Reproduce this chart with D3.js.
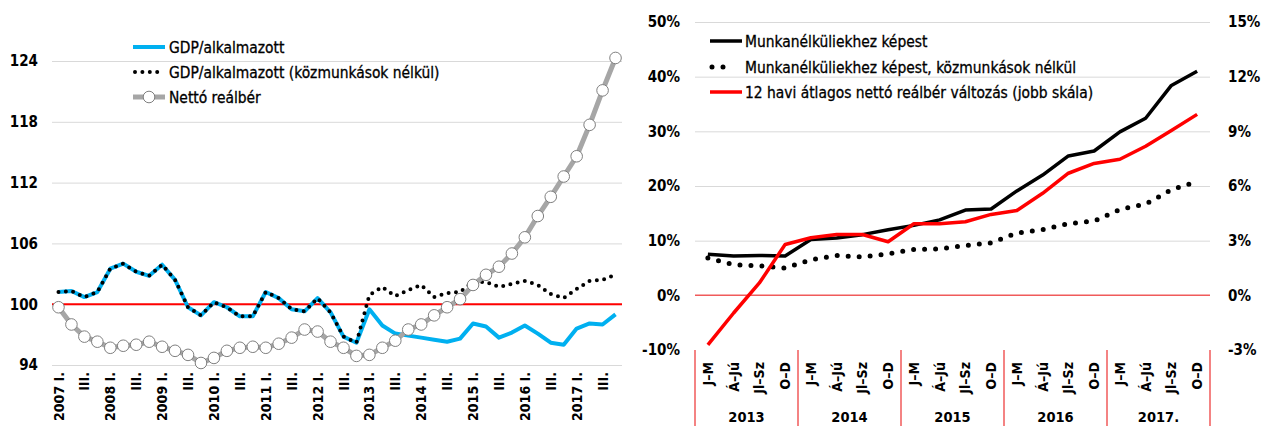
<!DOCTYPE html>
<html><head><meta charset="utf-8">
<script src="https://cdn.jsdelivr.net/npm/d3@7"></script>
<style>
body{margin:0;background:#fff}
svg{display:block}
text{font-family:"DejaVu Sans Condensed","DejaVu Sans",sans-serif;fill:#000}
.lg{stroke:#000;stroke-width:0.3px}
</style>
</head><body>
<svg id="c" width="1261" height="426"></svg>
<script>
// ---------- DATA: left chart ----------
const leftYears = [2007,2008,2009,2010,2011,2012,2013,2014,2015,2016,2017];
const leftQuarters = ["I.","II.","III.","IV."];
const leftYTicks = [94,100,106,112,118,124];
const gdpPerEmployee = [101.2,101.3,100.7,101.2,103.5,104.0,103.2,102.8,103.9,102.4,
  99.7,98.9,100.2,99.7,98.8,98.8,101.2,100.6,99.5,99.3,
  100.6,99.2,96.8,96.2,99.5,97.9,97.1,96.9,96.7,96.5,
  96.3,96.6,98.1,97.8,96.7,97.2,97.9,97.1,96.2,96.0,
  97.6,98.1,98.0,99.0];
const gdpPerEmployeeExPW = [101.2,101.3,100.7,101.2,103.5,104.0,103.2,102.8,103.9,102.4,
  99.7,98.9,100.2,99.7,98.8,98.8,101.2,100.6,99.5,99.3,
  100.6,99.2,96.8,96.2,100.9,101.7,100.8,101.4,101.9,100.7,
  101.1,101.2,102.2,102.2,101.7,102.0,102.3,101.9,101.0,100.6,
  101.5,102.3,102.4,102.9];
const netRealWage = [99.7,98.0,96.8,96.3,95.7,95.9,96.0,96.3,95.8,95.4,
  95.0,94.2,94.7,95.4,95.7,95.8,95.7,96.1,96.7,97.5,
  97.3,96.3,95.7,94.9,95.0,95.7,96.4,97.5,98.0,98.9,
  99.7,100.5,101.9,102.9,103.7,105.0,106.6,108.7,110.6,112.6,
  114.6,117.7,121.1,124.3];
const leftLegend = ["GDP/alkalmazott","GDP/alkalmazott (közmunkások nélkül)","Nettó reálbér"];

// ---------- DATA: right chart ----------
const rightYears = ["2013","2014","2015","2016","2017."];
const rightQuarters = ["J–M","Á–Jú","Jl–Sz","O–D"];
const rightYTicks = [-10,0,10,20,30,40,50];
const rightY2Ticks = [-3,0,3,6,9,12,15];
const vsUnemployed = [7.5,7.2,7.3,7.2,10.2,10.5,11.1,12.0,12.8,13.8,15.6,15.8,19.1,22.0,25.5,26.4,29.9,32.4,38.4,41.0];
const vsUnemployedExPW = [6.85,5.6,5.4,5.0,6.5,7.3,7.0,7.6,8.4,8.5,9.1,9.6,11.4,12.0,13.1,13.6,15.7,16.7,19.3,20.8];
const wageChange12m = [-2.72,-0.97,0.68,2.79,3.16,3.34,3.34,2.94,3.93,3.93,4.04,4.44,4.66,5.6,6.7,7.24,7.47,8.18,9.05,9.93];
const rightLegend = ["Munkanélküliekhez képest","Munkanélküliekhez képest, közmunkások nélkül","12 havi átlagos nettó reálbér változás (jobb skála)"];

// ---------- helpers ----------
const svg = d3.select("#c");
const GRID = "#d9d9d9";

// ================= LEFT CHART =================
const leftCats = leftYears.flatMap(y => leftQuarters.map(q => y + " " + q));
const xL = d3.scaleBand().domain(leftCats).range([52, 622]);
const yL = d3.scaleLinear().domain([94, 124]).range([365, 61]);
const cxL = c => xL(c) + xL.bandwidth() / 2;

const yAxL = svg.append("g").attr("transform", "translate(52,0)")
  .call(d3.axisLeft(yL).tickValues(leftYTicks).tickSize(-570).tickPadding(14).tickFormat(d3.format("d")));
yAxL.select(".domain").remove();
yAxL.selectAll(".tick line").attr("stroke", GRID);
yAxL.selectAll(".tick text").style("font-size", "15px").style("font-weight", "bold");

// red base line at 100
svg.append("line").attr("x1", 52).attr("x2", 622).attr("y1", yL(100)).attr("y2", yL(100))
  .attr("stroke", "#ff0000").attr("stroke-width", 2);

// x axis labels
const leftTickCats = leftCats.filter((c, i) => i % 2 === 0);
const xAxL = svg.append("g").attr("transform", `translate(0,${yL(94)})`)
  .call(d3.axisBottom(xL).tickValues(leftTickCats).tickSize(0)
    .tickFormat(c => c.endsWith(" I.") ? c : c.split(" ")[1]));
xAxL.select(".domain").remove();
xAxL.selectAll(".tick text")
  .attr("transform", "rotate(-90)").attr("x", -7).attr("y", 0).attr("dy", "0.36em")
  .style("text-anchor", "end").style("font-size", "14px").style("font-weight", "bold");

const lineL = vals => d3.line().x((d, i) => cxL(leftCats[i])).y(d => yL(d))(vals);

svg.append("path").attr("d", lineL(gdpPerEmployee)).attr("fill", "none")
  .attr("stroke", "#00b0f0").attr("stroke-width", 4).attr("stroke-linejoin", "round");
svg.append("path").attr("d", lineL(gdpPerEmployeeExPW)).attr("fill", "none")
  .attr("stroke", "#000").attr("stroke-width", 4).attr("stroke-linecap", "round")
  .attr("stroke-dasharray", "0,7.4");
svg.append("path").attr("d", lineL(netRealWage)).attr("fill", "none")
  .attr("stroke", "#a6a6a6").attr("stroke-width", 5).attr("stroke-linejoin", "round");
svg.append("g").selectAll("circle").data(netRealWage).join("circle")
  .attr("cx", (d, i) => cxL(leftCats[i])).attr("cy", d => yL(d)).attr("r", 5.8)
  .attr("fill", "#fff").attr("stroke", "#7f7f7f").attr("stroke-width", 1);

// left legend
const lgL = svg.append("g");
const lgLy = [47, 72, 97];
lgL.append("line").attr("x1", 133).attr("x2", 165).attr("y1", lgLy[0]).attr("y2", lgLy[0])
  .attr("stroke", "#00b0f0").attr("stroke-width", 4);
lgL.append("line").attr("x1", 135).attr("x2", 158).attr("y1", lgLy[1]).attr("y2", lgLy[1])
  .attr("stroke", "#000").attr("stroke-width", 4).attr("stroke-linecap", "round").attr("stroke-dasharray", "0,7.4");
lgL.append("line").attr("x1", 133).attr("x2", 165).attr("y1", lgLy[2]).attr("y2", lgLy[2])
  .attr("stroke", "#a6a6a6").attr("stroke-width", 5);
lgL.append("circle").attr("cx", 149).attr("cy", lgLy[2]).attr("r", 5.8)
  .attr("fill", "#fff").attr("stroke", "#7f7f7f");
lgL.selectAll("text").data(leftLegend).join("text").attr("class", "lg")
  .attr("x", 169).attr("y", (d, i) => lgLy[i]).attr("dy", "0.36em")
  .style("font-size", "15.4px").text(d => d);

// ================= RIGHT CHART =================
const rightCats = rightYears.flatMap(y => rightQuarters.map(q => y + "|" + q));
const xR = d3.scaleBand().domain(rightCats).range([695, 1210]);
const yR = d3.scaleLinear().domain([-10, 50]).range([350, 22]);
const yR2 = d3.scaleLinear().domain([-3, 15]).range([350, 22]);
const cxR = c => xR(c) + xR.bandwidth() / 2;

const yAxR = svg.append("g").attr("transform", "translate(695,0)")
  .call(d3.axisLeft(yR).tickValues(rightYTicks).tickSize(-515).tickPadding(15).tickFormat(d => d + "%"));
yAxR.select(".domain").remove();
yAxR.selectAll(".tick line").attr("stroke", d => (d === -10 || d === 0) ? "none" : GRID);
yAxR.selectAll(".tick text").style("font-size", "15px").style("font-weight", "bold");

const yAxR2 = svg.append("g").attr("transform", "translate(1210,0)")
  .call(d3.axisRight(yR2).tickValues(rightY2Ticks).tickSize(0).tickPadding(18).tickFormat(d => d + "%"));
yAxR2.select(".domain").remove();
yAxR2.selectAll(".tick text").style("font-size", "15px").style("font-weight", "bold");

// zero line
svg.append("line").attr("x1", 695).attr("x2", 1210).attr("y1", yR(0)).attr("y2", yR(0))
  .attr("stroke", "#f05a5a").attr("stroke-width", 1.5);

// quarter labels
const xAxR = svg.append("g").attr("transform", `translate(0,${yR(-10)})`)
  .call(d3.axisBottom(xR).tickSize(0).tickFormat(c => c.split("|")[1]));
xAxR.select(".domain").remove();
xAxR.selectAll(".tick text")
  .attr("transform", "rotate(-90)").attr("x", -12).attr("y", 0).attr("dy", "0.36em")
  .style("text-anchor", "end").style("font-size", "14px").style("font-weight", "bold");

// year group separators and labels
const seps = rightYears.map(y => xR(y + "|" + rightQuarters[0])).concat([xR.range()[1]]);
svg.append("g").selectAll("line").data(seps).join("line")
  .attr("x1", d => d).attr("x2", d => d).attr("y1", yR(-10)).attr("y2", 426)
  .attr("stroke", "#f05a5a").attr("stroke-width", 1.5);
svg.append("g").selectAll("text").data(rightYears).join("text")
  .attr("x", y => xR(y + "|" + rightQuarters[0]) + 2 * xR.bandwidth())
  .attr("y", 417).attr("dy", "0.36em").style("text-anchor", "middle")
  .style("font-size", "14.5px").style("font-weight", "bold").text(d => d);

const lineR = (vals, sc) => d3.line().x((d, i) => cxR(rightCats[i])).y(d => sc(d))(vals);
svg.append("path").attr("d", lineR(vsUnemployedExPW, yR)).attr("fill", "none")
  .attr("stroke", "#000").attr("stroke-width", 5).attr("stroke-linecap", "round")
  .attr("stroke-dasharray", "0,11");
svg.append("path").attr("d", lineR(vsUnemployed, yR)).attr("fill", "none")
  .attr("stroke", "#000").attr("stroke-width", 3.5).attr("stroke-linejoin", "round");
svg.append("path").attr("d", lineR(wageChange12m, yR2)).attr("fill", "none")
  .attr("stroke", "#ff0000").attr("stroke-width", 3.5).attr("stroke-linejoin", "round");

// right legend
const lgR = svg.append("g");
const lgRy = [41, 67, 92];
lgR.append("line").attr("x1", 710).attr("x2", 742).attr("y1", lgRy[0]).attr("y2", lgRy[0])
  .attr("stroke", "#000").attr("stroke-width", 3.5);
lgR.append("line").attr("x1", 712).attr("x2", 734).attr("y1", lgRy[1]).attr("y2", lgRy[1])
  .attr("stroke", "#000").attr("stroke-width", 5).attr("stroke-linecap", "round").attr("stroke-dasharray", "0,11");
lgR.append("line").attr("x1", 710).attr("x2", 742).attr("y1", lgRy[2]).attr("y2", lgRy[2])
  .attr("stroke", "#ff0000").attr("stroke-width", 3.5);
lgR.selectAll("text").data(rightLegend).join("text").attr("class", "lg")
  .attr("x", 745).attr("y", (d, i) => lgRy[i]).attr("dy", "0.36em")
  .style("font-size", "15.4px").text(d => d);
</script>
</body></html>
